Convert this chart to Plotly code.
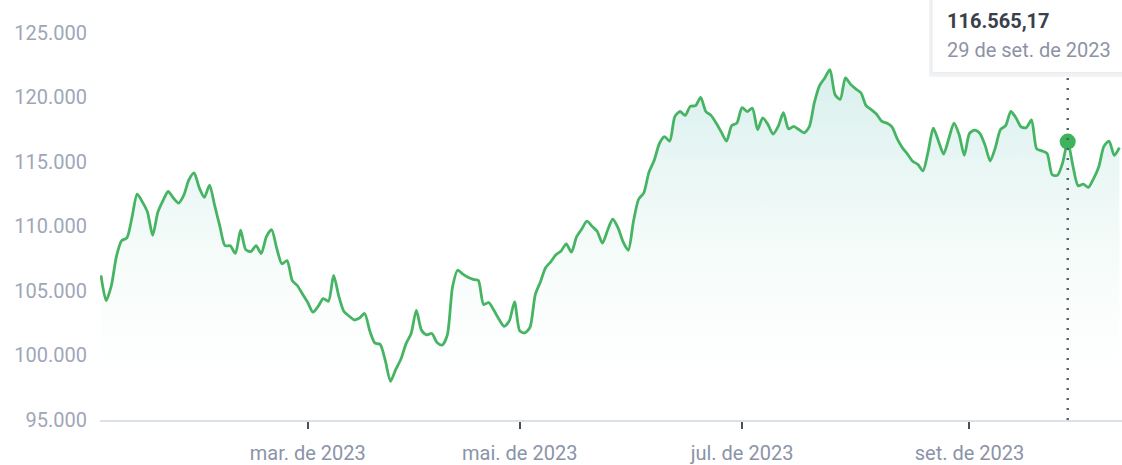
import pandas as pd
import plotly.graph_objects as go

# B3 trading calendar, Jan 2 - Oct 16 2023 (exchange holidays removed)
holidays = ["2023-02-20", "2023-02-21", "2023-04-07", "2023-04-21",
            "2023-05-01", "2023-06-08", "2023-09-07", "2023-10-12"]
dates = pd.bdate_range("2023-01-02", "2023-10-16", freq="C", holidays=holidays)

# daily closing points of the index
closes = [
    106200, 104250, 105400, 107700, 108900, 109100, 110700, 112500, 111900, 111100,
    109300, 111100, 112000, 112700, 112200, 111800, 112400, 113600, 114150, 113000,
    112250, 113200, 111600, 110000, 108500, 108500, 107900, 109700, 108200, 108050,
    108500, 107900, 109200, 109750, 108300, 107100, 107350, 105800, 105400, 104750,
    104100, 103350, 103800, 104400, 104200, 106200, 104600, 103400, 103050, 102750,
    102900, 103250, 101900, 100950, 100860, 99600, 98000, 98900, 99700, 100900,
    101700, 103500, 101950, 101600, 101700, 101000, 100800, 101600, 105300, 106600,
    106300, 106050, 105900, 105800, 103950, 104100, 103500, 102800, 102250, 102700,
    104150, 101900, 101750, 102200, 104700, 105700, 106800, 107250, 107800, 108100,
    108650, 108000, 109200, 109800, 110400, 110000, 109600, 108700, 109700, 110550,
    109900, 108800, 108150, 110400, 112100, 112600, 114200, 115100, 116400, 116950,
    116600, 118500, 118900, 118600, 119300, 119350, 120000, 118900, 118600, 118000,
    117300, 116600, 117800, 118000, 119200, 118900, 119150, 117500, 118400, 117900,
    117150, 117750, 118800, 117550, 117750, 117500, 117250, 117700, 119600, 120900,
    121500, 122150, 120200, 119850, 121500, 121000, 120650, 120350, 119350, 119050,
    118700, 118150, 118000, 117700, 116800, 116100, 115600, 115050, 114800, 114300,
    115800, 117600, 116600, 115600, 116800, 118000, 117100, 115500, 117200, 117450,
    117200, 116300, 115070, 116100, 117500, 117800, 118900, 118400, 117700, 117650,
    118250, 116000, 115850, 115650, 114000, 113950, 114900, 116565.17, 114700, 113150,
    113270, 113020, 113700, 114600, 116200, 116610, 115500, 116100,
]

months_pt = ["jan.", "fev.", "mar.", "abr.", "mai.", "jun.",
             "jul.", "ago.", "set.", "out.", "nov.", "dez."]
tick_months = ["2023-03", "2023-05", "2023-07", "2023-09"]
y_ticks = [95000, 100000, 105000, 110000, 115000, 120000, 125000]
highlight_date = "2023-09-29"

x_cat = [d.strftime("%Y-%m-%d") for d in dates]
n = min(len(x_cat), len(closes))
x_cat, closes = x_cat[:n], closes[:n]

tick_vals, tick_text = [], []
for ym in tick_months:
    first = next(d for d in dates if d.strftime("%Y-%m") == ym)
    tick_vals.append(first.strftime("%Y-%m-%d"))
    tick_text.append(f"{months_pt[first.month - 1]} de {first.year}")

hi_idx = x_cat.index(highlight_date)
hi_val = closes[hi_idx]
hi_day = dates[hi_idx]
val_txt = f"{hi_val:,.2f}".replace(",", "_").replace(".", ",").replace("_", ".")
date_txt = f"{hi_day.day} de {months_pt[hi_day.month - 1]} de {hi_day.year}"

Y_MIN, Y_MAX = 95000, 127536
GREEN = "#46b463"

fig = go.Figure()
fig.add_trace(go.Scatter(
    x=x_cat, y=closes, mode="lines",
    line=dict(color=GREEN, width=2.8, shape="spline", smoothing=0.7),
    fill="tozeroy",
    fillgradient=dict(
        type="vertical",
        colorscale=[[0, "rgba(255,255,255,0)"], [0.45, "rgba(238,249,246,0.55)"],
                    [1, "rgba(210,237,235,0.9)"]],
        start=Y_MIN, stop=122500,
    ),
    hoverinfo="skip", showlegend=False,
))

# vertical guide at the highlighted session
fig.add_shape(type="line", xref="x", yref="y",
              x0=hi_idx, x1=hi_idx, y0=Y_MIN, y1=121900,
              line=dict(color="#555b66", width=2.4, dash="2px,8px"))

fig.add_trace(go.Scatter(
    x=[highlight_date], y=[hi_val], mode="markers",
    marker=dict(color="#3fb35c", size=16),
    hoverinfo="skip", showlegend=False,
))

# tooltip card
PL, PW, PH = 100, 1022, 422
def px(xp):
    return (xp - PL) / PW
def py(yp):
    return (PH - yp) / PH

fig.add_shape(type="rect", xref="paper", yref="paper",
              x0=px(929), x1=px(1140), y0=py(77), y1=py(-20),
              line=dict(width=0), fillcolor="rgba(60,70,90,0.07)", layer="above")
fig.add_shape(type="rect", xref="paper", yref="paper",
              x0=px(932), x1=px(1140), y0=py(73), y1=py(-20),
              line=dict(color="#e6e9ef", width=1), fillcolor="white", layer="above")
fig.add_annotation(xref="paper", yref="paper", x=px(945), y=py(21),
                   xanchor="left", yanchor="middle", showarrow=False,
                   text=f"<b>{val_txt}</b>",
                   font=dict(family="Roboto", size=20, color="#3b3f4c"))
fig.add_annotation(xref="paper", yref="paper", x=px(945), y=py(50),
                   xanchor="left", yanchor="middle", showarrow=False,
                   text=date_txt,
                   font=dict(family="Roboto", size=20, color="#8d93a5"))

fig.update_layout(
    width=1122, height=465,
    margin=dict(l=PL, r=0, t=0, b=43),
    paper_bgcolor="white", plot_bgcolor="white",
    separators=",.",
    font=dict(family="Roboto"),
    xaxis=dict(
        type="category", range=[-0.19, 197.5],
        tickmode="array", tickvals=tick_vals, ticktext=tick_text,
        showgrid=False, zeroline=False,
        showline=True, linecolor="#dbe1e8", linewidth=1.5,
        ticks="outside", ticklen=7, tickwidth=2, tickcolor="#4a4e57",
        tickfont=dict(size=20, color="#8b93a8"),
        ticklabelstandoff=7,
    ),
    yaxis=dict(
        range=[Y_MIN, Y_MAX], tickmode="array", tickvals=y_ticks,
        tickformat=",", showgrid=False, zeroline=False, showline=False,
        ticks="", tickfont=dict(size=20, color="#a0a6b7"),
        ticklabelstandoff=12,
    ),
)

fig.write_html("out.html", config={"displayModeBar": False})
